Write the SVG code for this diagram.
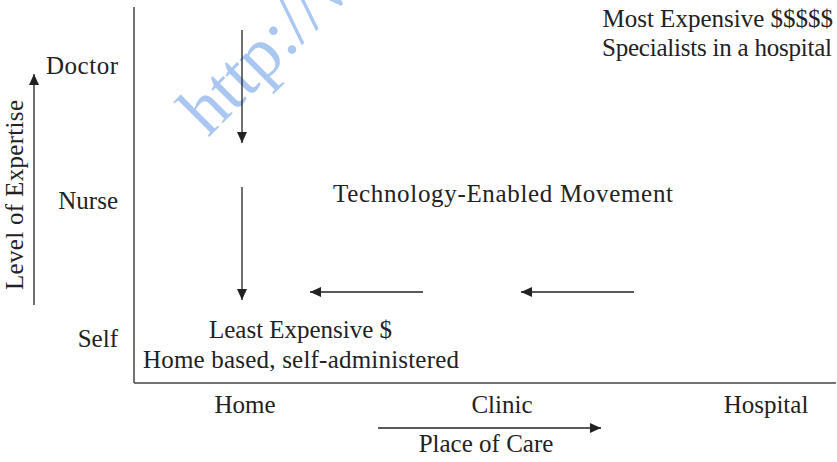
<svg xmlns="http://www.w3.org/2000/svg" width="837" height="462" viewBox="0 0 837 462">
<style>
.t{font-family:"Liberation Serif","Times New Roman",serif;font-size:25px;fill:#222}
.ax{stroke:#444;stroke-width:1.5;fill:none}
.ar{stroke:#222;stroke-width:1.3;fill:none;marker-end:url(#ah)}
.wm{font-family:"Liberation Serif","Times New Roman",serif;font-size:72px;fill:#a9c7f0}
</style>
<defs>
<marker id="ah" markerUnits="userSpaceOnUse" markerWidth="12" markerHeight="11" refX="11" refY="5" orient="auto">
<path d="M0,0 L11,5 L0,10 z" fill="#222"/>
</marker>
</defs>
<rect width="837" height="462" fill="#fff"/>
<g id="watermark"><text class="wm" transform="translate(208,138) rotate(-45)">http://w</text></g>
<g id="axes">
<line class="ax" x1="134" y1="7" x2="134" y2="383"/>
<line class="ax" x1="134" y1="383" x2="836" y2="383"/>
</g>
<g id="connectors">
<line class="ar" x1="34" y1="305" x2="34" y2="74"/>
<line class="ar" x1="242" y1="30" x2="242" y2="143"/>
<line class="ar" x1="242" y1="187" x2="242" y2="300"/>
<line class="ar" x1="423" y1="292" x2="310" y2="292"/>
<line class="ar" x1="634" y1="292" x2="521" y2="292"/>
<line class="ar" x1="378" y1="428" x2="601" y2="428"/>
</g>
<g id="y-label"><text class="t" text-anchor="middle" transform="translate(23,195) rotate(-90)" textLength="190">Level of Expertise</text></g>
<g id="doctor"><text class="t" x="118" y="74" text-anchor="end" textLength="72">Doctor</text></g>
<g id="nurse"><text class="t" x="118" y="209" text-anchor="end">Nurse</text></g>
<g id="self"><text class="t" x="118" y="347" text-anchor="end">Self</text></g>
<g id="most-expensive">
<text class="t" x="833" y="27" text-anchor="end">Most Expensive $$$$$</text>
<text class="t" x="832" y="56" text-anchor="end" textLength="230">Specialists in a hospital</text>
</g>
<g id="tech"><text class="t" x="333" y="202" textLength="340">Technology-Enabled Movement</text></g>
<g id="least-expensive">
<text class="t" x="209" y="338" textLength="183">Least Expensive $</text>
<text class="t" x="143" y="368" textLength="316">Home based, self-administered</text>
</g>
<g id="home"><text class="t" x="245" y="413" text-anchor="middle">Home</text></g>
<g id="clinic"><text class="t" x="502" y="413" text-anchor="middle">Clinic</text></g>
<g id="hospital"><text class="t" x="766" y="413" text-anchor="middle">Hospital</text></g>
<g id="x-label"><text class="t" x="486" y="452" text-anchor="middle">Place of Care</text></g>
</svg>
